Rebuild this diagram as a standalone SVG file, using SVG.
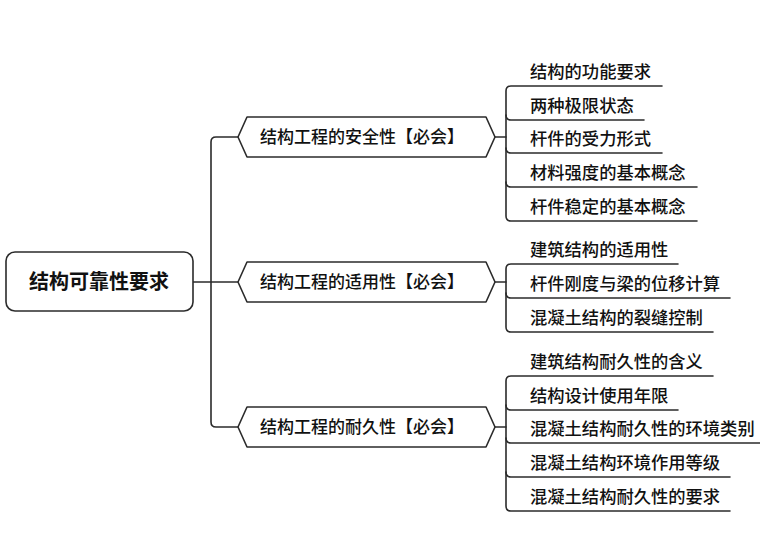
<svg xmlns="http://www.w3.org/2000/svg" width="760" height="557" viewBox="0 0 760 557">
<style>
.ln{fill:none;stroke:#2b2b2b;stroke-width:1.6;stroke-linejoin:round;stroke-linecap:round}
.box{fill:#fff;stroke:#2b2b2b;stroke-width:1.6;stroke-linejoin:round}
.t{font-family:"Noto Sans CJK SC","Noto Sans",sans-serif;fill:#111}
.leaf{font-size:17.3px;font-weight:500}
.br{font-size:17px;text-anchor:middle;font-weight:500}
.root{font-size:20px;font-weight:bold;text-anchor:middle}
</style>
<rect width="760" height="557" fill="#fff"/>
<g id="connectors">
<path class="ln" d="M193,282 H238"/>
<path class="ln" d="M238,137 H216 Q211,137 211,142 V422 Q211,427 216,427 H238"/>
<path class="ln" d="M495,137 H506"/>
<path class="ln" d="M495,282 H506"/>
<path class="ln" d="M495,427 H506"/>
<path class="ln" d="M662,86 H511 Q506,86 506,91 V216 Q506,221 511,221 H697"/>
<path class="ln" d="M506,115 Q506,120 511,120 H644"/>
<path class="ln" d="M506,148 Q506,153 511,153 H662"/>
<path class="ln" d="M506,182 Q506,187 511,187 H697"/>
<path class="ln" d="M678,264 H511 Q506,264 506,269 V327 Q506,332 511,332 H713"/>
<path class="ln" d="M506,293 Q506,298 511,298 H730"/>
<path class="ln" d="M713,376 H511 Q506,376 506,381 V506 Q506,511 511,511 H730"/>
<path class="ln" d="M506,405 Q506,410 511,410 H678"/>
<path class="ln" d="M506,438 Q506,443 511,443 H760"/>
<path class="ln" d="M506,472 Q506,477 511,477 H730"/>
</g>
<g id="root">
<rect class="box" x="6" y="252" width="187" height="59" rx="9"/>
<text class="t root" x="99" y="289">结构可靠性要求</text>
</g>
<g id="safety">
<polygon class="box" points="238,137 247,117 486,117 495,137 486,157 247,157"/>
<text class="t br" x="362" y="143">结构工程的安全性【必会】</text>
</g>
<g id="applicability">
<polygon class="box" points="238,282 247,262 486,262 495,282 486,302 247,302"/>
<text class="t br" x="362" y="288">结构工程的适用性【必会】</text>
</g>
<g id="durability">
<polygon class="box" points="238,427 247,407 486,407 495,427 486,447 247,447"/>
<text class="t br" x="362" y="433">结构工程的耐久性【必会】</text>
</g>
<g id="leaf1"><text class="t leaf" x="530" y="78">结构的功能要求</text></g>
<g id="leaf2"><text class="t leaf" x="530" y="112">两种极限状态</text></g>
<g id="leaf3"><text class="t leaf" x="530" y="145">杆件的受力形式</text></g>
<g id="leaf4"><text class="t leaf" x="530" y="179">材料强度的基本概念</text></g>
<g id="leaf5"><text class="t leaf" x="530" y="213">杆件稳定的基本概念</text></g>
<g id="leaf6"><text class="t leaf" x="530" y="256">建筑结构的适用性</text></g>
<g id="leaf7"><text class="t leaf" x="530" y="290">杆件刚度与梁的位移计算</text></g>
<g id="leaf8"><text class="t leaf" x="530" y="324">混凝土结构的裂缝控制</text></g>
<g id="leaf9"><text class="t leaf" x="530" y="368">建筑结构耐久性的含义</text></g>
<g id="leaf10"><text class="t leaf" x="530" y="402">结构设计使用年限</text></g>
<g id="leaf11"><text class="t leaf" x="530" y="435">混凝土结构耐久性的环境类别</text></g>
<g id="leaf12"><text class="t leaf" x="530" y="469">混凝土结构环境作用等级</text></g>
<g id="leaf13"><text class="t leaf" x="530" y="503">混凝土结构耐久性的要求</text></g>
</svg>
